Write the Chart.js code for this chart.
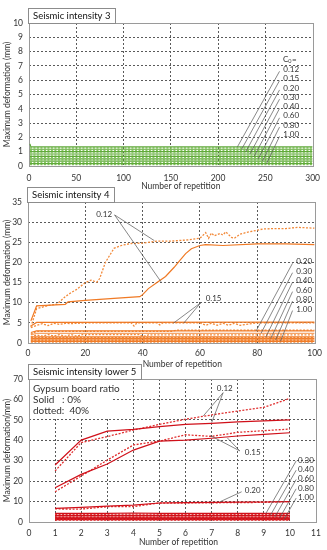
<!DOCTYPE html>
<html>
<head>
<meta charset="utf-8">
<script src="https://cdn.jsdelivr.net/npm/chart.js@4"></script>
<style>
html, body { margin: 0; padding: 0; background: #fff; }
body { width: 327px; height: 550px; position: relative; overflow: hidden; }
canvas { position: absolute; left: 0; }
</style>
</head>
<body>
<canvas id="c3" width="327" height="192" style="top:0px"></canvas>
<canvas id="c4" width="327" height="184" style="top:186px"></canvas>
<canvas id="c5" width="327" height="186" style="top:364px"></canvas>
<script>
'use strict';

// base shear coefficients C0
const coefs = ['0.12', '0.15', '0.20', '0.30', '0.40', '0.60', '0.80', '1.00'];

// ---- seismic intensity 3 (all flat) ----
const i3X = [1, 2, 300];
const i3Solid = [
    [1.55, 1.34, 1.34],
    [1.17, 1.17, 1.17],
    [1.00, 1.00, 1.00],
    [0.84, 0.84, 0.84],
    [0.67, 0.67, 0.67],
    [0.50, 0.50, 0.50],
    [0.34, 0.34, 0.34],
    [0.17, 0.17, 0.17]
];
const i3Dotted = [
    [1.26, 1.26, 1.26],
    [1.09, 1.09, 1.09],
    [0.92, 0.92, 0.92],
    [0.76, 0.76, 0.76],
    [0.59, 0.59, 0.59],
    [0.42, 0.42, 0.42],
    [0.26, 0.26, 0.26],
    [0.09, 0.09, 0.09]
];

// ---- seismic intensity 4 ----
const i4X012s = [1, 3, 13, 14, 20, 30, 39, 40, 42, 45, 48, 51, 53, 55, 57, 60, 62, 68, 80, 90, 100];
const i4Y012s = [5.5, 9.2, 9.6, 10.2, 10.6, 11.1, 11.5, 12.0, 13.5, 15.0, 16.5, 18.8, 20.5, 22.2, 23.4, 24.2, 24.4, 24.2, 24.6, 24.6, 24.4];
const i4X012d = [1, 3, 7, 10, 13, 15, 17, 20, 22, 24, 25, 27, 30, 33, 36, 40, 45, 50, 56, 60, 62, 63, 64, 65, 67, 68, 69, 71, 72, 74, 76, 80, 82, 86, 90, 94, 100];
const i4Y012d = [4.0, 8.5, 9.3, 9.6, 11.5, 12.5, 13.3, 15.0, 15.6, 15.1, 16.0, 20.0, 23.5, 24.3, 24.7, 24.8, 25.3, 25.3, 25.6, 26.0, 27.4, 26.0, 27.3, 26.6, 27.2, 26.8, 27.6, 26.2, 26.0, 27.0, 27.4, 28.0, 28.3, 28.4, 28.4, 28.7, 28.5];
const i4X015s = [1, 3, 100];
const i4Y015s = [4.2, 5.1, 5.2];
const i4X015d = [1, 3, 5, 7, 9, 11, 13, 15, 20, 30, 36, 37, 38, 45, 46, 47, 55, 60, 62, 64, 66, 68, 70, 72, 74, 80, 100];
const i4Y015d = [3.8, 4.4, 4.8, 4.3, 4.9, 4.6, 4.9, 4.8, 5.0, 5.0, 5.0, 4.2, 5.0, 5.0, 4.5, 5.0, 5.0, 5.0, 4.4, 4.9, 4.4, 4.9, 4.4, 4.9, 4.4, 5.0, 5.0];
const i4X020s = [1, 3, 100];
const i4Y020s = [2.6, 3.0, 3.0];
const i4X020d = [1, 3, 50, 52, 100];
const i4Y020d = [2.2, 2.9, 2.9, 3.2, 3.2];
const i4X030s = [1, 3, 100];
const i4Y030s = [2.0, 2.4, 2.4];
const i4X030d = [1, 3, 5, 7, 9, 11, 13, 15, 17, 19, 21, 39, 40, 42, 100];
const i4Y030d = [1.5, 2.0, 1.7, 2.1, 1.7, 2.1, 1.7, 2.1, 1.7, 2.1, 2.1, 2.1, 1.6, 2.0, 2.0];
const i4XFlat = [1, 100];
const i4Solid040 = [1.5, 1.5];
const i4Dotted040 = [1.3, 1.3];
const i4Solid060 = [1.1, 1.1];
const i4Dotted060 = [0.95, 0.95];
const i4Solid080 = [0.75, 0.75];
const i4Dotted080 = [0.6, 0.6];
const i4Solid100 = [0.4, 0.4];
const i4Dotted100 = [0.25, 0.25];

// ---- seismic intensity lower 5 ----
const i5X = [1, 2, 3, 4, 5, 6, 7, 8, 9, 10];
const i5Solid = [
    [27.9, 40.1, 44.5, 45.3, 46.7, 47.8, 48.3, 49.0, 49.5, 50.0],
    [16.8, 23.3, 28.4, 35.2, 39.6, 40.1, 41.0, 42.1, 42.9, 43.7],
    [6.7, 7.2, 7.8, 8.3, 9.3, 9.5, 9.6, 9.7, 9.8, 10.0],
    [4.2, 4.2, 4.2, 4.4, 4.2, 4.2, 4.2, 4.2, 4.2, 4.2],
    [3.2, 3.2, 3.2, 3.2, 3.2, 3.2, 3.2, 3.2, 3.2, 3.2],
    [2.4, 2.4, 2.4, 2.4, 2.4, 2.4, 2.4, 2.4, 2.4, 2.4],
    [1.8, 1.8, 1.8, 1.8, 1.8, 1.8, 1.8, 1.8, 1.8, 1.8],
    [1.2, 1.2, 1.2, 1.2, 1.2, 1.2, 1.2, 1.2, 1.2, 1.2]
];
const i5Dotted = [
    [25.0, 38.9, 41.8, 45.0, 47.8, 50.3, 52.4, 54.3, 56.1, 60.5],
    [14.8, 22.5, 30.3, 37.7, 39.6, 42.7, 41.9, 43.9, 44.7, 45.5],
    [6.4, 6.3, 7.5, 7.5, 9.3, 9.3, 9.4, 9.5, 9.6, 10.0],
    [3.8, 3.8, 3.8, 3.9, 3.8, 3.8, 3.8, 3.8, 3.8, 3.8],
    [2.9, 2.9, 2.9, 2.9, 2.9, 2.9, 2.9, 2.9, 2.9, 2.9],
    [2.1, 2.1, 2.1, 2.1, 2.1, 2.1, 2.1, 2.1, 2.1, 2.1],
    [1.5, 1.5, 1.5, 1.5, 1.5, 1.5, 1.5, 1.5, 1.5, 1.5],
    [0.9, 0.9, 0.9, 0.9, 0.9, 0.9, 0.9, 0.9, 0.9, 0.9]
];

const FONT = 'Lato, "Open Sans", sans-serif';
const TEXT = '#333';

function pts(xs, ys) {
    return xs.map((x, i) => ({ x: x, y: ys[i] }));
}

function line(label, xs, ys, color, dotted) {
    return {
        label: label,
        data: pts(xs, ys),
        borderColor: color,
        borderWidth: dotted ? 1.3 : 1.2,
        borderDash: dotted ? [2, 1.5] : [],
        pointRadius: 0,
        fill: false,
        tension: 0
    };
}

// frame, title box, leader lines, labels
const decor = {
    id: 'decor',
    beforeDatasetsDraw(chart, args, o) {
        const ctx = chart.ctx;
        const ca = chart.chartArea;
        const sx = chart.scales.x, sy = chart.scales.y;
        if (o.cover) {
            const [x1, y1] = o.cover;
            ctx.save();
            ctx.fillStyle = '#fff';
            ctx.fillRect(ca.left + 1, ca.top + 1, sx.getPixelForValue(x1) - ca.left - 1, sy.getPixelForValue(y1) - ca.top - 1);
            ctx.restore();
        }
        ctx.save();
        ctx.strokeStyle = '#9a9a9a';
        ctx.lineWidth = 1;
        ctx.strokeRect(Math.round(ca.left) + 0.5, Math.round(ca.top) + 0.5, Math.round(ca.width), Math.round(ca.height));
        ctx.restore();
    },
    afterDatasetsDraw(chart, args, o) {
        const ctx = chart.ctx;
        const ca = chart.chartArea;
        const sx = chart.scales.x, sy = chart.scales.y;
        ctx.save();
        // leader lines
        ctx.strokeStyle = '#555';
        ctx.lineWidth = 0.7;
        (o.leaders || []).forEach(l => {
            ctx.beginPath();
            ctx.moveTo(sx.getPixelForValue(l[0]), sy.getPixelForValue(l[1]));
            ctx.lineTo(sx.getPixelForValue(l[2]), sy.getPixelForValue(l[3]));
            ctx.stroke();
        });
        ctx.fillStyle = TEXT;
        ctx.font = '8px ' + FONT;
        ctx.textBaseline = 'middle';
        ctx.textAlign = 'left';
        (o.labels || []).forEach(t => {
            ctx.fillText(t[0], sx.getPixelForValue(t[1]), sy.getPixelForValue(t[2]));
        });
        if (o.c0) {
            const x = sx.getPixelForValue(o.c0[0]), y = sy.getPixelForValue(o.c0[1]);
            ctx.fillText('C', x, y);
            const w = ctx.measureText('C').width;
            ctx.font = '5.5px ' + FONT;
            ctx.fillText('0', x + w, y + 2);
            const w2 = ctx.measureText('0').width;
            ctx.font = '8px ' + FONT;
            ctx.fillText('=', x + w + w2 + 0.5, y);
        }
        // legend note
        if (o.note) {
            ctx.font = '10px ' + FONT;
            o.note.forEach((s, i) => ctx.fillText(s, ca.left + 4, ca.top + 10 + i * 11));
        }
        // title box
        const b = o.box;
        ctx.font = '9.5px ' + FONT;
        const bw = Math.max(b.w, Math.ceil(ctx.measureText(b.text).width) + 9);
        ctx.fillStyle = '#fff';
        ctx.fillRect(ca.left - 1, ca.top - 15, bw, 15);
        ctx.strokeStyle = '#8c8c8c';
        ctx.lineWidth = 1;
        ctx.strokeRect(Math.round(ca.left - 1) + 0.5, Math.round(ca.top - 15) + 0.5, bw, 15);
        ctx.fillStyle = '#111';
        ctx.fillText(b.text, ca.left + 4, ca.top - 7);
        // x axis title
        ctx.font = '8.5px ' + FONT;
        ctx.fillStyle = TEXT;
        ctx.textAlign = 'center';
        ctx.fillText('Number of repetition', (ca.left + ca.right) / 2 + o.xTitleShift, ca.bottom + o.xTitleY);
        ctx.restore();
    }
};

function makePanel(id, p) {
    const gridColor = max => c => (c.tick && (c.tick.value === 0 || c.tick.value === max)) ? 'rgba(0,0,0,0)' : '#5a5a5a';
    new Chart(document.getElementById(id), {
        type: 'line',
        data: { datasets: p.datasets },
        options: {
            responsive: false,
            animation: false,
            events: [],
            layout: { padding: { top: p.padTop, right: 11, left: 0, bottom: 0 } },
            plugins: {
                legend: { display: false },
                tooltip: { enabled: false },
                decor: p.decor
            },
            scales: {
                x: {
                    type: 'linear',
                    min: 0,
                    max: p.xMax,
                    ticks: { stepSize: p.xStep, padding: p.xTickPad, color: TEXT, font: { family: FONT, size: 8.5 }, maxRotation: 0 },
                    grid: { color: gridColor(p.xMax), drawTicks: false, lineWidth: 1 },
                    border: { display: false, dash: [2, 2] },
                    afterFit: s => { s.height = p.xHeight; }
                },
                y: {
                    min: 0,
                    max: p.yMax,
                    ticks: { stepSize: p.yStep, padding: 6, color: TEXT, font: { family: FONT, size: 8.5 } },
                    grid: { color: gridColor(p.yMax), drawTicks: false, lineWidth: 1 },
                    border: { display: false, dash: [2, 2] },
                    title: { display: true, text: p.yTitle, color: TEXT, font: { family: FONT, size: 8.5 }, padding: { top: 2, bottom: 0 } },
                    afterFit: s => { s.width = p.yWidth; }
                }
            }
        },
        plugins: [decor]
    });
}

// panel 1
const green = '#5fa83a', greenDot = '#86c65f';
const ds3 = [];
coefs.forEach((c, i) => {
    ds3.push(line(c + ' solid', i3X, i3Solid[i], green, false));
    ds3.push(line(c + ' dotted', i3X, i3Dotted[i], greenDot, true));
});
const lead3 = coefs.map((c, i) => [265, 6.62 - i * 0.65, 220.5 + i * 4.4, i3Solid[i][2]]);
const lab3 = coefs.map((c, i) => [c, 269, 6.76 - i * 0.65]);
makePanel('c3', {
    datasets: ds3, padTop: 23, xMax: 300, xStep: 50, yMax: 10, yStep: 1, xHeight: 26, xTickPad: 7, yWidth: 29,
    yTitle: 'Maximum deformation (mm)',
    decor: { box: { w: 83, text: 'Seismic intensity 3' }, leaders: lead3, labels: lab3, c0: [268.6, 7.45], xTitleShift: 10, xTitleY: 20.5 }
});

// panel 2
const orange = '#f07a25', orangeDot = '#f28a3a';
const ds4 = [
    line('0.12 solid', i4X012s, i4Y012s, orange, false),
    line('0.12 dotted', i4X012d, i4Y012d, orangeDot, true),
    line('0.15 solid', i4X015s, i4Y015s, orange, false),
    line('0.15 dotted', i4X015d, i4Y015d, orangeDot, true),
    line('0.20 solid', i4X020s, i4Y020s, orange, false),
    line('0.20 dotted', i4X020d, i4Y020d, orangeDot, true),
    line('0.30 solid', i4X030s, i4Y030s, '#f4a56a', false),
    line('0.30 dotted', i4X030d, i4Y030d, orangeDot, true),
    line('0.40 solid', i4XFlat, i4Solid040, orange, false),
    line('0.40 dotted', i4XFlat, i4Dotted040, orangeDot, true),
    line('0.60 solid', i4XFlat, i4Solid060, orange, false),
    line('0.60 dotted', i4XFlat, i4Dotted060, orangeDot, true),
    line('0.80 solid', i4XFlat, i4Solid080, orange, false),
    line('0.80 dotted', i4XFlat, i4Dotted080, orangeDot, true),
    line('1.00 solid', i4XFlat, i4Solid100, orange, false),
    line('1.00 dotted', i4XFlat, i4Dotted100, orangeDot, true)
];
const ends4 = [[79.6, 3.0], [81.3, 2.4], [83.0, 1.5], [84.7, 1.1], [86.4, 0.75], [88.1, 0.4]];
const lead4 = [
    [30.2, 31.8, 44.1, 25.4], [30.2, 31.8, 46.4, 15.2],
    [60.3, 10.0, 50.7, 4.9], [60.3, 10.0, 54.3, 4.9]
].concat(ends4.map((e, i) => [92.3, 19.8 - i * 2.35, e[0], e[1]]));
const lab4 = [['0.12', 23.8, 31.8], ['0.15', 62, 11.1]].concat(coefs.slice(2).map((c, i) => [c, 93.6, 20.2 - i * 2.35]));
makePanel('c4', {
    datasets: ds4, padTop: 16, xMax: 100, xStep: 20, yMax: 35, yStep: 5, xHeight: 27, xTickPad: 5, yWidth: 28,
    yTitle: 'Maximum deformation (mm)',
    decor: { box: { w: 84, text: 'Seismic intensity 4' }, leaders: lead4, labels: lab4, xTitleShift: 11, xTitleY: 21 }
});

// panel 3
const red = '#d0101a', redDot = '#e03030';
const ds5 = [];
coefs.forEach((c, i) => {
    ds5.push(line(c + ' solid', i5X, i5Solid[i], red, false));
    ds5.push(line(c + ' dotted', i5X, i5Dotted[i], redDot, true));
});
const ends5 = [[9.08, 4.2], [9.25, 3.2], [9.42, 2.4], [9.6, 1.8], [9.77, 1.2]];
const lead5 = [
    [7.44, 63.3, 6.68, 51.9], [7.44, 63.3, 7.0, 48.6],
    [8.08, 34.8, 6.95, 42.3], [8.08, 34.8, 7.6, 41.2],
    [8.15, 14.8, 7.32, 9.9]
].concat(ends5.map((e, i) => [10.24, 29.9 - i * 4.55, e[0], e[1]]));
const lab5 = [['0.12', 7.2, 65.5], ['0.15', 8.27, 33.9], ['0.20', 8.27, 15.5]]
    .concat(coefs.slice(3).map((c, i) => [c, 10.31, 30.3 - i * 4.55]));
makePanel('c5', {
    datasets: ds5, padTop: 15, xMax: 11, xStep: 1, yMax: 70, yStep: 10, xHeight: 28, xTickPad: 6, yWidth: 29,
    yTitle: 'Maximum deformation(mm)',
    decor: {
        box: { w: 111, text: 'Seismic intensity lower 5' }, leaders: lead5, labels: lab5, cover: [3.15, 51],
        note: ['Gypsum board ratio', 'Solid   : 0%', 'dotted:  40%'], xTitleShift: 6, xTitleY: 20
    }
});
</script>
</body>
</html>
